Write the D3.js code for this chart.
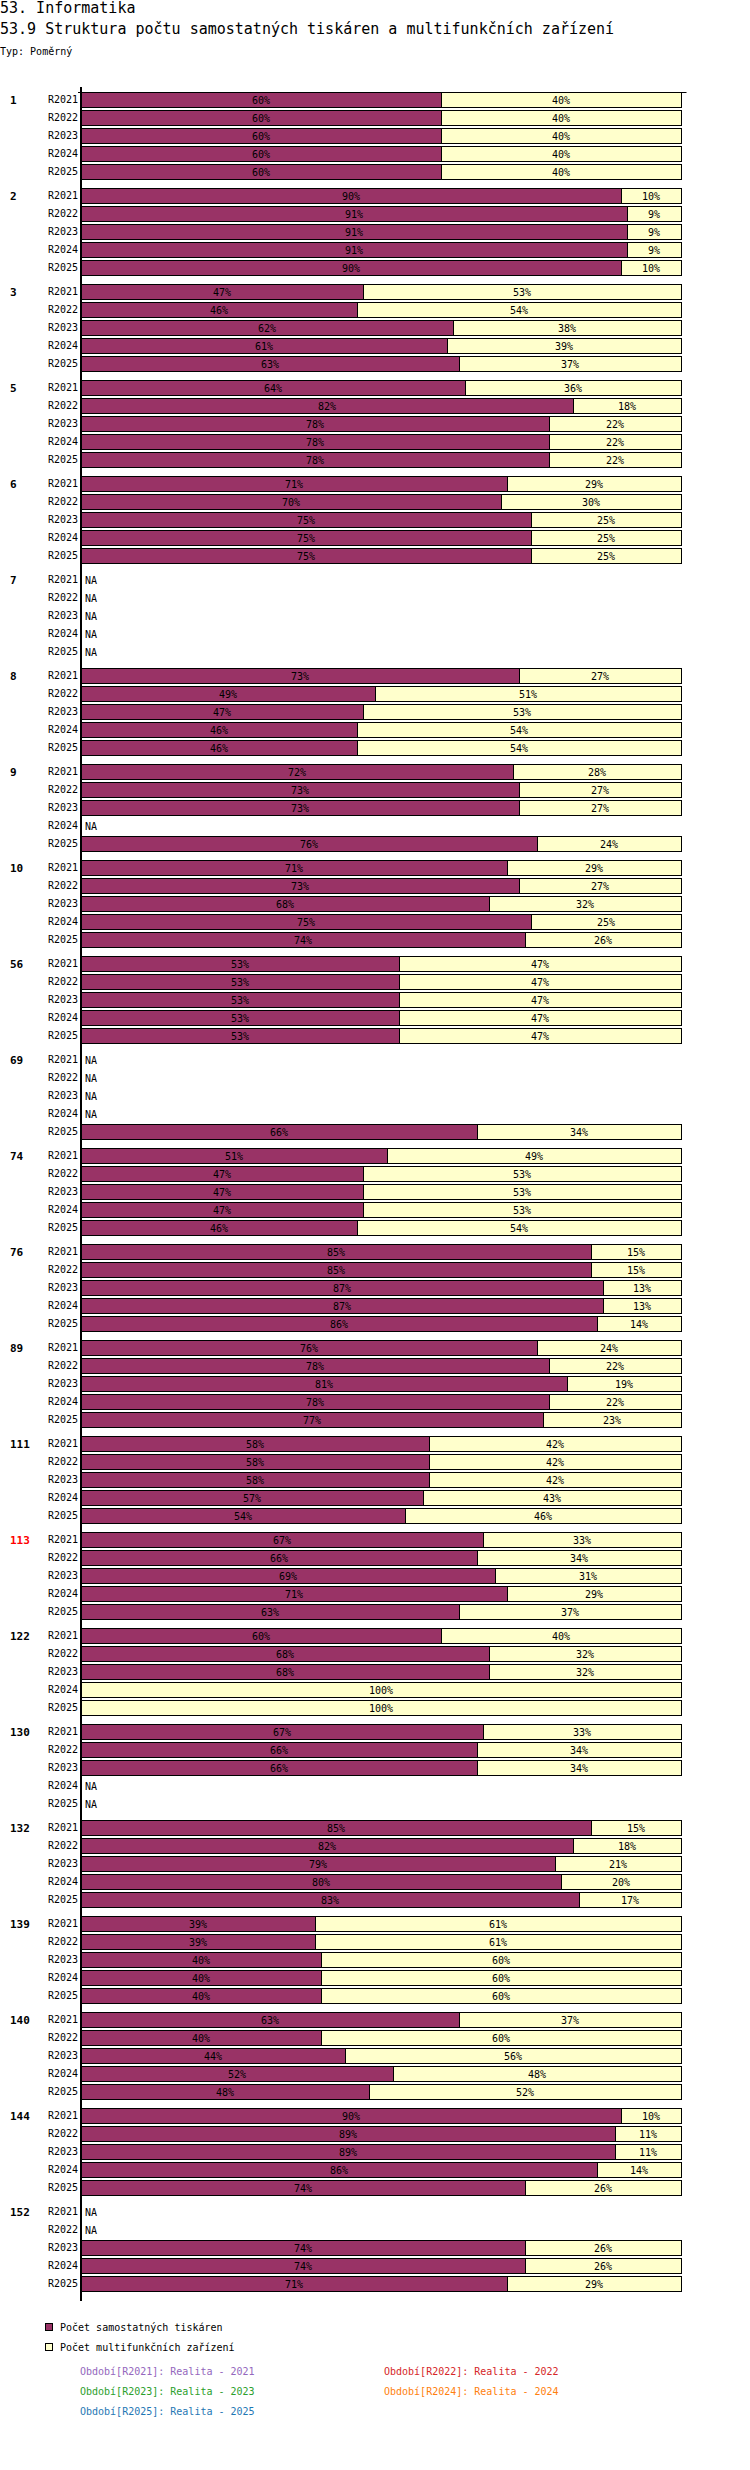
<!DOCTYPE html>
<html>
<head>
<meta charset="utf-8">
<script src="https://cdn.jsdelivr.net/npm/d3@7.9.0/dist/d3.min.js"></script>
<style>
  body { margin: 0; background: #fff; }
  svg text { font-family: "DejaVu Sans Mono", "Liberation Mono", monospace; }
</style>
</head>
<body>
<svg id="chart" width="750" height="2470"></svg>
<script>
// Data (null = NA)
const groups = ['1', '2', '3', '5', '6', '7', '8', '9', '10', '56', '69', '74', '76', '89',
  '111', '113', '122', '130', '132', '139', '140', '144', '152'];
const years = ['R2021', 'R2022', 'R2023', 'R2024', 'R2025'];
const highlightGroup = '113';

// Počet samostatných tiskáren (%)
const tiskarny = [
  [60, 60, 60, 60, 60],
  [90, 91, 91, 91, 90],
  [47, 46, 62, 61, 63],
  [64, 82, 78, 78, 78],
  [71, 70, 75, 75, 75],
  [null, null, null, null, null],
  [73, 49, 47, 46, 46],
  [72, 73, 73, null, 76],
  [71, 73, 68, 75, 74],
  [53, 53, 53, 53, 53],
  [null, null, null, null, 66],
  [51, 47, 47, 47, 46],
  [85, 85, 87, 87, 86],
  [76, 78, 81, 78, 77],
  [58, 58, 58, 57, 54],
  [67, 66, 69, 71, 63],
  [60, 68, 68, 0, 0],
  [67, 66, 66, null, null],
  [85, 82, 79, 80, 83],
  [39, 39, 40, 40, 40],
  [63, 40, 44, 52, 48],
  [90, 89, 89, 86, 74],
  [null, null, 74, 74, 71]
];

// Počet multifunkčních zařízení (%)
const multifunkcni = [
  [40, 40, 40, 40, 40],
  [10, 9, 9, 9, 10],
  [53, 54, 38, 39, 37],
  [36, 18, 22, 22, 22],
  [29, 30, 25, 25, 25],
  [null, null, null, null, null],
  [27, 51, 53, 54, 54],
  [28, 27, 27, null, 24],
  [29, 27, 32, 25, 26],
  [47, 47, 47, 47, 47],
  [null, null, null, null, 34],
  [49, 53, 53, 53, 54],
  [15, 15, 13, 13, 14],
  [24, 22, 19, 22, 23],
  [42, 42, 42, 43, 46],
  [33, 34, 31, 29, 37],
  [40, 32, 32, 100, 100],
  [33, 34, 34, null, null],
  [15, 18, 21, 20, 17],
  [61, 61, 60, 60, 60],
  [37, 60, 56, 48, 52],
  [10, 11, 11, 14, 26],
  [null, null, 26, 26, 29]
];

const seriesNames = ['Počet samostatných tiskáren', 'Počet multifunkčních zařízení'];
const seriesColors = ['#993366', '#ffffcc'];

const periodLabels = [
  'Období[R2021]: Realita - 2021', 'Období[R2022]: Realita - 2022',
  'Období[R2023]: Realita - 2023', 'Období[R2024]: Realita - 2024',
  'Období[R2025]: Realita - 2025'
];
const periodColors = ['#9467bd', '#d62728', '#2ca02c', '#ff7f0e', '#1f77b4'];

const svg = d3.select('#chart');

// Titles
svg.append('text').attr('x', 0).attr('y', 13).attr('font-size', 15)
  .text('53. Informatika');
svg.append('text').attr('x', 0).attr('y', 34).attr('font-size', 15)
  .text('53.9 Struktura počtu samostatných tiskáren a multifunkčních zařízení');
svg.append('text').attr('x', 0).attr('y', 55).attr('font-size', 10)
  .text('Typ: Poměrný');

// Scales
const x = d3.scaleLinear().domain([0, 100]).range([81, 681]);
const yGroup = d3.scaleBand().domain(groups).range([92, 92 + 96 * groups.length]);
const yYear = d3.scaleBand().domain(years).range([0, 87]).paddingInner(1 / 6);
const bh = yYear.bandwidth();

// Bars
const rows = groups.map((g, gi) => ({
  group: g,
  bars: years.map((yr, yi) => ({
    year: yr,
    a: tiskarny[gi][yi],
    b: multifunkcni[gi][yi]
  }))
}));

const gSel = svg.selectAll('g.group')
  .data(rows)
  .join('g')
  .attr('class', 'group')
  .attr('transform', d => `translate(0,${yGroup(d.group)})`);

// group label
gSel.append('text')
  .attr('x', 10)
  .attr('y', yYear(years[0]) + bh / 2 + 4)
  .attr('font-size', 11)
  .attr('font-weight', 'bold')
  .attr('fill', d => d.group === highlightGroup ? '#ff0000' : '#000')
  .text(d => d.group);

// year labels through the axis
gSel.each(function () {
  const ax = d3.select(this).append('g')
    .attr('transform', 'translate(78,0)')
    .call(d3.axisLeft(yYear).tickSize(0).tickPadding(0));
  ax.select('.domain').remove();
  ax.selectAll('text')
    .attr('font-size', 10)
    .attr('font-family', '"DejaVu Sans Mono", monospace')
    .attr('dy', '0.36em');
});

const barSel = gSel.selectAll('g.bar')
  .data(d => d.bars)
  .join('g')
  .attr('class', 'bar')
  .attr('transform', d => `translate(0,${yYear(d.year)})`);

barSel.each(function (d) {
  const s = d3.select(this);
  if (d.a === null) {
    s.append('text')
      .attr('x', 85)
      .attr('y', bh / 2 + 4)
      .attr('font-size', 10)
      .text('NA');
    return;
  }
  const segs = [
    { v: d.a, x0: 0, color: seriesColors[0] },
    { v: d.b, x0: d.a, color: seriesColors[1] }
  ];
  segs.forEach(sg => {
    if (sg.v <= 0) return;
    s.append('rect')
      .attr('x', x(sg.x0) + 0.5)
      .attr('y', 0.5)
      .attr('width', x(sg.x0 + sg.v) - x(sg.x0))
      .attr('height', bh)
      .attr('fill', sg.color)
      .attr('stroke', '#000')
      .attr('stroke-width', 1);
    s.append('text')
      .attr('x', x(sg.x0 + sg.v / 2))
      .attr('y', bh / 2 + 4)
      .attr('text-anchor', 'middle')
      .attr('font-size', 10)
      .text(sg.v + '%');
  });
});

// Axis lines
const yBottom = yGroup.range()[1] + 1;
svg.append('line')
  .attr('x1', 81).attr('x2', 81)
  .attr('y1', 87).attr('y2', yBottom)
  .attr('stroke', '#000').attr('stroke-width', 2);
svg.append('line')
  .attr('x1', 78).attr('x2', x(100) + 5.5)
  .attr('y1', 92.5).attr('y2', 92.5)
  .attr('stroke', '#000').attr('stroke-width', 1);

// Legend
const legend = svg.append('g').attr('transform', 'translate(0,2323)');
seriesNames.forEach((name, i) => {
  legend.append('rect')
    .attr('x', 45.5).attr('y', i * 20 + 0.5)
    .attr('width', 7).attr('height', 7)
    .attr('fill', seriesColors[i])
    .attr('stroke', '#000');
  legend.append('text')
    .attr('x', 60).attr('y', i * 20 + 7.5)
    .attr('font-size', 10)
    .text(name);
});

periodLabels.forEach((lab, i) => {
  svg.append('text')
    .attr('x', i % 2 === 0 ? 80 : 384)
    .attr('y', 2375 + Math.floor(i / 2) * 20)
    .attr('font-size', 10)
    .attr('fill', periodColors[i])
    .text(lab);
});
</script>
</body>
</html>
